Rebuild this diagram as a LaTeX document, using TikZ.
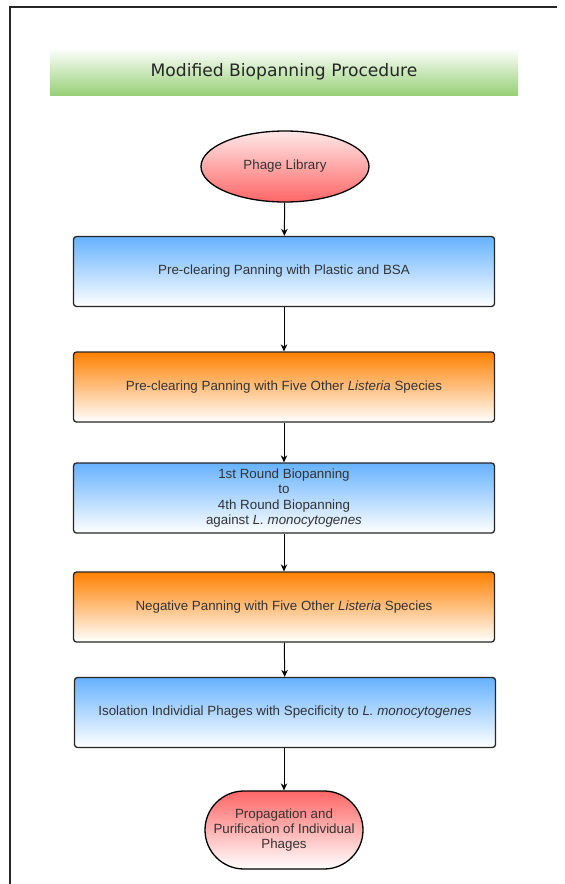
\documentclass[tikz,border=0pt]{standalone}
\usepackage{fontspec}
\setmainfont{Liberation Sans}
\newfontfamily\titlefont{DejaVu Sans}
\usetikzlibrary{shapes.geometric,arrows.meta,shadings}
\definecolor{bluetop}{HTML}{66B2FF}
\definecolor{orangetop}{HTML}{FF8000}
\definecolor{redc}{HTML}{FF6666}
\definecolor{greenc}{HTML}{97D077}
\definecolor{txt}{HTML}{333333}
\tikzset{
  nodefont/.style={font=\fontsize{13.4}{15.3}\selectfont},
  boxbase/.style={draw=black!85, line width=1.3bp, rounded corners=3bp,
    minimum width=421bp, minimum height=70bp, inner sep=0pt,
    align=center, text=txt, nodefont},
  bluebox/.style={boxbase, top color=bluetop, bottom color=white},
  orangebox/.style={boxbase, top color=orangetop, bottom color=white},
  conn/.style={draw=black, line width=1bp, -{Stealth[length=7bp,width=6.5bp]}},
}
\begin{document}
\begin{tikzpicture}[x=1bp,y=-1bp]
\useasboundingbox (0,0) rectangle (565,884);
\fill[white] (0,0) rectangle (565,884);
% frame
\draw[line width=2bp, black!85] (10,884) -- (10,7) -- (557,7);
% title banner
\node[minimum width=468bp, minimum height=47bp, inner sep=0pt,
  top color=white, bottom color=greenc, text=black!85,
  font=\titlefont\fontsize{17.2}{20}\selectfont] (title) at (284,71.5)
  {Modified Biopanning Procedure};
% nodes
\node[ellipse, draw=black, line width=1.3bp, minimum width=168bp, minimum height=71bp,
  inner sep=0pt, top color=white!85!redc, bottom color=redc, text=txt,
  nodefont] (lib) at (285,166.5) {Phage Library};
\node[bluebox] (b1) at (284,271.5) {Pre-clearing Panning with Plastic and BSA};
\node[orangebox] (b2) at (284,387) {Pre-clearing Panning with Five Other \textit{Listeria} Species};
\node[bluebox] (b3) at (284,498) {1st Round Biopanning\\to\\4th Round Biopanning\\against \textit{L. monocytogenes}};
\node[orangebox] (b4) at (284,607) {Negative Panning with Five Other \textit{Listeria} Species};
\node[bluebox] (b5) at (285,712.5) {Isolation Individial Phages with Specificity to \textit{L. monocytogenes}};
\node[draw=black, line width=1.3bp, rounded corners=39bp, minimum width=158bp,
  minimum height=78bp, inner sep=0pt, align=center, top color=redc, bottom color=white,
  text=txt, font=\fontsize{13.4}{15.5}\selectfont] (end) at (284,830)
  {Propagation and\\Purification of Individual\\Phages};
% connectors
\draw[conn] (lib) -- (b1);
\draw[conn] (b1) -- (b2);
\draw[conn] (b2) -- (b3);
\draw[conn] (b3) -- (b4);
\draw[conn] (b4) -- (b5);
\draw[conn] (b5.south -| end.north) -- (end);
\end{tikzpicture}
\end{document}
